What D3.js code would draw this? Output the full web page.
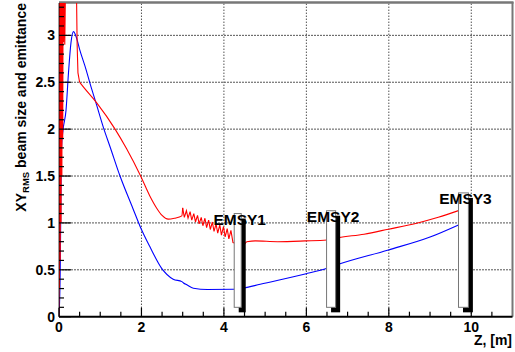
<!DOCTYPE html>
<html><head><meta charset="utf-8">
<script src="https://cdn.jsdelivr.net/npm/d3@7"></script>
<style>
html,body{margin:0;padding:0;background:#fff;}
svg{display:block;font-family:"Liberation Sans",Arial,sans-serif;}
</style></head>
<body>
<svg id="c" width="515" height="352"></svg>
<script>
// ---- data ----
const xTicks = [0, 2, 4, 6, 8, 10];
const yTicks = [0, 0.5, 1, 1.5, 2, 2.5, 3];
const xTickLabels = ["0", "2", "4", "6", "8", "10"];
const yTickLabels = ["0", "0.5", "1", "1.5", "2", "2.5", "3"];

// red curve (emittance): spiky start, smooth middle, sawtooth, smooth tail
const redSpikeZ = [0,0.005,0.012,0.02,0.03,0.04,0.05,0.06,0.07,0.08,0.09,0.1,0.11,0.12,0.14,0.16,0.2,0.3,0.42,0.44,0.46,0.5];
const redSpikeV = [0,3.6,0.3,3.6,0.6,3.6,1.0,3.6,1.5,3.6,1.9,3.6,2.93,3.6,2.9,3.6,4.0,5.0,3.6,2.9,2.6,2.5];
const redSmoothZ = [0.5,0.61,0.915,1.36,1.64,1.98,2.2,2.37,2.5,2.65,2.8,2.98,3.00];
const redSmoothV = [2.5,2.44,2.28,2.0,1.79,1.50,1.29,1.157,1.08,1.04,1.05,1.075,1.16];
const redSawZ = [3.00,3.04,3.09,3.13,3.18,3.22,3.27,3.31,3.36,3.40,3.45,3.49,3.54,3.58,3.63,3.67,3.72,3.76,3.81,3.85,3.90,3.94,3.99,4.03,4.08,4.12,4.17,4.22,4.3,4.45,4.5,4.55];
const redSawV = [1.16,1.06,1.13,1.05,1.12,1.03,1.10,1.01,1.08,0.99,1.06,0.97,1.05,0.95,1.03,0.93,1.01,0.91,0.99,0.89,0.98,0.87,0.96,0.85,0.94,0.83,0.92,0.79,0.78,0.775,0.773,0.80];
const redTailZ = [4.55,4.76,5.3,5.97,6.5,6.78,7.4,7.99,8.7,9.2,9.69];
const redTailV = [0.80,0.808,0.80,0.808,0.818,0.843,0.88,0.933,1.0,1.06,1.131];

// blue curve (beam size)
const blueZ = [0,0.03,0.045,0.06,0.1,0.17,0.23,0.29,0.35,0.42,0.5,0.66,0.75,0.89,1.09,1.24,1.48,1.79,1.97,2.2,2.49,2.77,2.98,3.02,3.1,3.26,3.6,4.23,4.48,4.88,5.97,6.5,6.78,7.99,9.0,9.69];
const blueV = [0,0.5,1.2,1.8,2.0,2.2,2.6,2.92,3.04,2.98,2.85,2.63,2.49,2.29,2.0,1.81,1.50,1.157,0.96,0.75,0.516,0.40,0.374,0.36,0.34,0.303,0.29,0.292,0.305,0.346,0.456,0.516,0.559,0.712,0.85,0.979];

// screens (EMSY)
const screenNames = ["EMSY1", "EMSY2", "EMSY3"];
const screenZ0 = [4.25, 6.49, 9.69];
const screenZ1 = [4.42, 6.71, 9.93];
const screenTop = [1.10, 1.13, 1.32];
const screenBottom = [0.10, 0.10, 0.10];

// ---- layout ----
const svg = d3.select("#c");
const x = d3.scaleLinear().domain([0, 11]).range([59, 512.5]);
const y = d3.scaleLinear().domain([0, 3.345]).range([316.7, 3]);
const X0 = x(0), X1 = x(11), Y0 = y(0), Y1 = y(3.345);

svg.append("defs").append("clipPath").attr("id", "clip")
  .append("rect").attr("x", X0).attr("y", Y1).attr("width", X1 - X0).attr("height", Y0 - Y1);

// grid
const g = svg.append("g");
g.selectAll(".gx").data(xTicks.filter(d => d > 0)).enter().append("line")
  .attr("x1", d => x(d)).attr("x2", d => x(d)).attr("y1", Y0).attr("y2", Y1)
  .attr("stroke", "#000").attr("stroke-width", 1).attr("stroke-dasharray", "1,2");
g.selectAll(".gy").data(yTicks.filter(d => d > 0)).enter().append("line")
  .attr("x1", X0).attr("x2", X1).attr("y1", d => y(d)).attr("y2", d => y(d))
  .attr("stroke", "#555").attr("stroke-width", 1).attr("stroke-dasharray", "2,1");

// frame top/right
svg.append("line").attr("x1", X0).attr("x2", X1 + 1).attr("y1", 2.5).attr("y2", 2.5)
  .attr("stroke", "#777").attr("stroke-width", 2.5);
svg.append("line").attr("x1", X1).attr("x2", X1).attr("y1", 2).attr("y2", Y0)
  .attr("stroke", "#777").attr("stroke-width", 2);

// curves
const lin = d3.line().x(d => x(d[0])).y(d => y(d[1]));
const smooth = d3.line().x(d => x(d[0])).y(d => y(d[1])).curve(d3.curveMonotoneX);
const zip = (a, b) => a.map((v, i) => [v, b[i]]);
const curves = svg.append("g").attr("clip-path", "url(#clip)").attr("fill", "none").attr("stroke-width", 1.1);
curves.append("path").attr("d", smooth(zip(blueZ, blueV))).attr("stroke", "#0000ff");
curves.append("path").attr("d", lin(zip(redSpikeZ, redSpikeV))).attr("stroke", "#ff0000");
curves.append("path").attr("d", smooth(zip(redSmoothZ, redSmoothV))).attr("stroke", "#ff0000");
curves.append("path").attr("d", lin(zip(redSawZ, redSawV))).attr("stroke", "#ff0000");
curves.append("path").attr("d", smooth(zip(redTailZ, redTailV))).attr("stroke", "#ff0000");

// axes
const ax = svg.append("g");
ax.append("line").attr("x1", X0).attr("x2", X1).attr("y1", Y0).attr("y2", Y0).attr("stroke", "#000").attr("stroke-width", 2);
ax.append("line").attr("x1", X0).attr("x2", X0).attr("y1", Y0).attr("y2", Y1).attr("stroke", "#000").attr("stroke-width", 1.5).attr("opacity", 0.5);
ax.selectAll(".tx").data(d3.range(0, 22).map(i => i * 0.5)).enter().append("line")
  .attr("x1", d => x(d)).attr("x2", d => x(d)).attr("y1", Y0)
  .attr("y2", d => Y0 - (Math.abs(d / 2 - Math.round(d / 2)) < 1e-6 ? 9 : 5))
  .attr("stroke", "#000").attr("stroke-width", 1.2);
ax.selectAll(".ty").data(d3.range(0, 34).map(i => i / 10)).enter().append("line")
  .attr("x1", X0).attr("y1", d => y(d)).attr("y2", d => y(d))
  .attr("x2", d => X0 + (Math.abs(d * 2 - Math.round(d * 2)) < 1e-6 ? 12 : 5))
  .attr("stroke", "#000").attr("stroke-width", 1.2);

ax.selectAll(".lx").data(xTicks).enter().append("text")
  .attr("x", d => x(d)).attr("y", 332).attr("text-anchor", "middle")
  .attr("font-size", 14).attr("font-weight", "bold").text((d, i) => xTickLabels[i]);
ax.selectAll(".ly").data(yTicks).enter().append("text")
  .attr("x", 55).attr("y", d => y(d) + 5).attr("text-anchor", "end")
  .attr("font-size", 14).attr("font-weight", "bold").text((d, i) => yTickLabels[i]);

// axis titles
svg.append("text").attr("x", 512).attr("y", 345).attr("text-anchor", "end")
  .attr("font-size", 14).attr("font-weight", "bold").text("Z, [m]");
const yt = svg.append("text").attr("transform", "translate(26,3) rotate(-90)")
  .attr("text-anchor", "end").attr("font-size", 14).attr("font-weight", "bold");
yt.append("tspan").text("XY");
yt.append("tspan").attr("font-size", 9.5).attr("dy", 3).text("RMS");
yt.append("tspan").attr("dy", -3).text(" beam size and emittance");

// screens
const scr = svg.append("g");
screenNames.forEach((name, i) => {
  const bx = x(screenZ0[i]), bw = x(screenZ1[i]) - x(screenZ0[i]);
  const by = y(screenTop[i]), bh = y(screenBottom[i]) - y(screenTop[i]);
  scr.append("rect").attr("x", bx + 4.5).attr("y", by + 5).attr("width", bw).attr("height", bh).attr("fill", "#000");
  scr.append("rect").attr("x", bx).attr("y", by).attr("width", bw).attr("height", bh)
    .attr("fill", "#fff").attr("stroke", "#777").attr("stroke-width", 1);
  scr.append("text").attr("x", bx + bw / 2 + 2).attr("y", by + 11).attr("text-anchor", "middle")
    .attr("font-size", 15.5).attr("font-weight", "bold").text(name);
});
</script>
</body></html>
